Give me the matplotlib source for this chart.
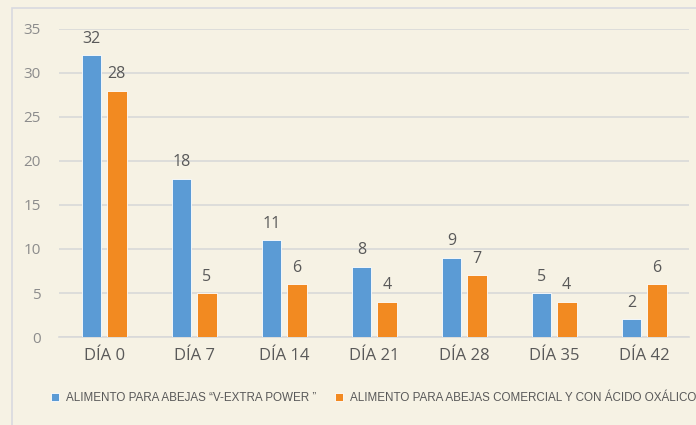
import numpy as np
import matplotlib.pyplot as plt
from matplotlib.patches import Rectangle

categories = ["DÍA 0", "DÍA 7", "DÍA 14", "DÍA 21", "DÍA 28", "DÍA 35", "DÍA 42"]
v_extra = [32, 18, 11, 8, 9, 5, 2]
comercial = [28, 5, 6, 4, 7, 4, 6]
series_names = ["ALIMENTO PARA ABEJAS \u201cV-EXTRA POWER \u201d",
                "ALIMENTO PARA ABEJAS COMERCIAL Y CON ÁCIDO OXÁLICO"]
yticks = [0, 5, 10, 15, 20, 25, 30, 35]

bg = "#F6F2E4"
blue = "#5B9BD5"
orange = "#F28A21"
txt = "#595959"
grid = "#D9D9D9"

plt.rcParams["font.family"] = ["Open Sans", "DejaVu Sans"]

fig = plt.figure(figsize=(6.96, 4.25), dpi=100, facecolor=bg)
ax = fig.add_axes([0.085, 0.207, 0.905, 0.725])
ax.set_facecolor(bg)

# outer chart border
fig.patches.append(Rectangle((12 / 696, -0.1), 1.2, 1 - 8 / 425 + 0.1,
                             transform=fig.transFigure, fill=False,
                             edgecolor="#D8D9E0", linewidth=1.2))

x = np.arange(len(categories))
w = 0.22
off = 0.14
b1 = ax.bar(x - off, v_extra, w, color=blue, edgecolor="white", linewidth=0.6,
            label=series_names[0], zorder=3)
b2 = ax.bar(x + off, comercial, w, color=orange, edgecolor="white", linewidth=0.6,
            label=series_names[1], zorder=3)
for bars in (b1, b2):
    ax.bar_label(bars, padding=6, color=txt, fontsize=11.5)

ax.set_xlim(-0.5, len(categories) - 0.5)
ax.set_ylim(0, 35)
ax.set_yticks(yticks)
ax.set_xticks(x)
ax.set_xticklabels(categories)
ax.tick_params(axis="x", length=0, colors=txt, labelsize=12, pad=8)
ax.tick_params(axis="y", length=0, colors="#8c8c8c", labelsize=11, pad=13)
ax.yaxis.grid(True, color=grid, linewidth=1.2, zorder=0)
for s in ["top", "right", "left"]:
    ax.spines[s].set_visible(False)
ax.spines["bottom"].set_color(grid)
ax.spines["bottom"].set_linewidth(1.2)

leg = fig.legend(handles=[b1, b2], loc="center", bbox_to_anchor=(0.537, 0.063),
                 ncol=2, frameon=False, handlelength=0.7,
                 handleheight=0.7, handletextpad=0.6, columnspacing=1.6,
                 prop={"family": ["Liberation Sans", "DejaVu Sans"], "size": 8.4})
for t in leg.get_texts():
    t.set_color(txt)

fig.savefig("out.png", dpi=100, facecolor=bg)
